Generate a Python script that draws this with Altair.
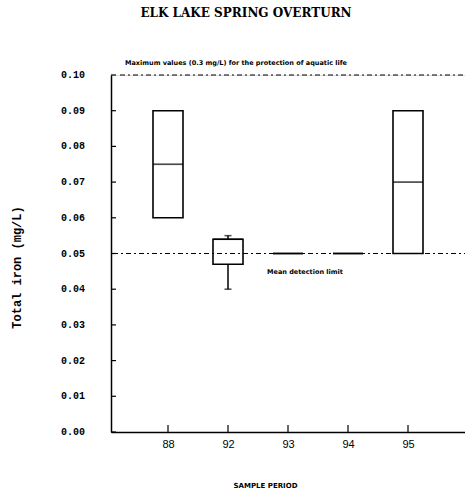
import altair as alt
import pandas as pd

# Sampling periods and box statistics for total iron (mg/L)
periods = ["88", "92", "93", "94", "95"]
low = [0.060, 0.040, 0.050, 0.050, 0.050]
q1 = [0.060, 0.047, 0.050, 0.050, 0.050]
median = [0.075, 0.054, 0.050, 0.050, 0.070]
q3 = [0.090, 0.054, 0.050, 0.050, 0.090]
high = [0.090, 0.055, 0.050, 0.050, 0.090]

# Reference levels
aquatic_limit = 0.10
detection_limit = 0.05
y_ticks = [0.00, 0.01, 0.02, 0.03, 0.04, 0.05, 0.06, 0.07, 0.08, 0.09, 0.10]

boxes = pd.DataFrame({"period": periods, "low": low, "q1": q1,
                      "median": median, "q3": q3, "high": high})
ticks_df = pd.DataFrame({"v": y_ticks})

W, H = 354, 357
INK = "black"

x_enc = alt.X("period:N", sort=periods,
              scale=alt.Scale(type="point", padding=0.95),
              axis=alt.Axis(title="SAMPLE PERIOD", ticks=False, labelAngle=0,
                            labelFont="Liberation Sans", labelFontSize=11,
                            labelColor=INK, labelPadding=6,
                            titleFont="DejaVu Sans", titleFontSize=7,
                            titleFontWeight="bold", titleColor=INK,
                            titleX=154, titleY=49, titleAlign="center",
                            domainColor=INK, domainWidth=1.5))
y_scale = alt.Scale(domain=[0, 0.1], nice=False, zero=True)
y_axis = alt.Axis(title="Total iron (mg/L)", values=y_ticks,
                  ticks=False, grid=False, labels=False,
                  titleFont="Liberation Mono", titleFontSize=12,
                  titleFontWeight="bold", titleColor=INK,
                  titleX=-88, titleY=192, titleAlign="center",
                  domainColor=INK, domainWidth=1.5)

base = alt.Chart(boxes)

box = base.mark_bar(size=30, fill="white", stroke=INK, strokeWidth=1.6).encode(
    x=x_enc,
    y=alt.Y("q1:Q", scale=y_scale, axis=y_axis),
    y2="q3:Q",
)
med = base.mark_tick(size=30, thickness=1.7, color=INK, orient="horizontal").encode(
    x=alt.X("period:N", sort=periods), y="median:Q")

lower_whisker = base.transform_filter("datum.low < datum.q1").mark_rule(
    color=INK, strokeWidth=1.5).encode(x=alt.X("period:N", sort=periods),
                                        y="low:Q", y2="q1:Q")
upper_whisker = base.transform_filter("datum.high > datum.q3").mark_rule(
    color=INK, strokeWidth=1.5).encode(x=alt.X("period:N", sort=periods),
                                        y="q3:Q", y2="high:Q")
low_cap = base.transform_filter("datum.low < datum.q1").mark_tick(
    size=7, thickness=1.5, color=INK, orient="horizontal").encode(
    x=alt.X("period:N", sort=periods), y="low:Q")
high_cap = base.transform_filter("datum.high > datum.q3").mark_tick(
    size=7, thickness=1.5, color=INK, orient="horizontal").encode(
    x=alt.X("period:N", sort=periods), y="high:Q")

# Inward-pointing axis ticks and the y tick labels
y_tick_marks = alt.Chart(ticks_df).mark_rule(color=INK, strokeWidth=1.2).encode(
    y="v:Q", x=alt.value(0), x2=alt.value(5))
y_tick_labels = alt.Chart(ticks_df).transform_calculate(
    lab="format(datum.v, '.2f')"
).mark_text(font="Liberation Mono", fontSize=10, fontWeight="bold", color=INK,
            align="right", baseline="middle", dx=-26).encode(
    y="v:Q", x=alt.value(0), text="lab:N")
x_tick_marks = base.mark_rule(color=INK, strokeWidth=1.2).encode(
    x=alt.X("period:N", sort=periods), y=alt.value(H), y2=alt.value(H - 7))

dash = [5, 3, 2, 3]
aquatic_line = alt.Chart().mark_rule(color=INK, strokeWidth=1.2, strokeDash=dash).encode(
    y=alt.datum(aquatic_limit), x=alt.value(9), x2=alt.value(W))
detect_line = alt.Chart().mark_rule(color=INK, strokeWidth=1.2, strokeDash=dash).encode(
    y=alt.datum(detection_limit), x=alt.value(2), x2=alt.value(W))

aquatic_text = alt.Chart().mark_text(
    text="Maximum values (0.3 mg/L) for the protection of aquatic life",
    font="DejaVu Sans", fontSize=6.5, fontWeight="bold", color=INK,
    align="left", baseline="bottom", dx=-43, dy=-9).encode(
    x=alt.datum("88"), y=alt.datum(aquatic_limit))
detect_text = alt.Chart().mark_text(
    text="Mean detection limit",
    font="DejaVu Sans", fontSize=6.5, fontWeight="bold", color=INK,
    align="left", baseline="top", dx=-21, dy=15).encode(
    x=alt.datum("93"), y=alt.datum(detection_limit))

chart = alt.layer(
    box, med, lower_whisker, upper_whisker, low_cap, high_cap,
    aquatic_line, detect_line,
    y_tick_marks, y_tick_labels, x_tick_marks, aquatic_text, detect_text,
).properties(
    width=W, height=H,
    title=alt.TitleParams("ELK LAKE SPRING OVERTURN", font="DejaVu Serif",
                          fontSize=12, fontWeight="bold", color=INK,
                          anchor="middle", dx=-42, offset=40),
    autosize=alt.AutoSizeParams(type="none"),
    padding={"left": 111, "top": 75, "right": 0, "bottom": 57},
).configure_view(stroke=None, clip=False).configure(background="white")

chart.save("out.html", embed_options={"renderer": "svg", "actions": False})
